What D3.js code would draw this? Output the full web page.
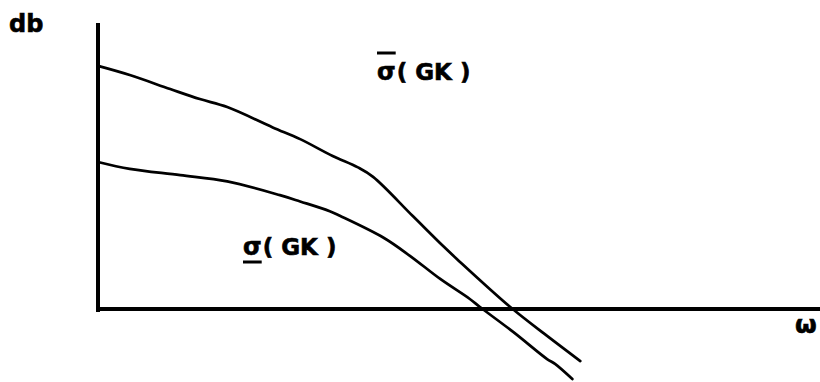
<!DOCTYPE html>
<html>
<head>
<meta charset="utf-8">
<script src="https://cdn.jsdelivr.net/npm/d3@7"></script>
<style>
  html, body { margin: 0; padding: 0; background: #fff; }
  svg { display: block; }
  text { font-family: "DejaVu Sans", sans-serif; font-weight: bold; fill: #000; stroke: #000; stroke-width: 0.6px; }
</style>
</head>
<body>
<svg id="chart" width="820" height="382"></svg>
<script>
// Frequency (ω, arbitrary units) and gain (db) samples for the two singular value curves
const omegaUpper = [0, 0.44, 1.0, 1.41, 1.79, 2.42, 2.8, 3.25, 3.6, 3.81, 4.36, 4.78, 4.97, 5.71, 6.22, 6.68];
const dbUpper    = [85, 81.8, 76.9, 73.4, 70.6, 63.5, 59.4, 53.5, 49.5, 46.2, 32.5, 22, 17.5, 0.7, -9.4, -18.2];

const omegaLower = [0, 0.44, 1.14, 1.79, 2.52, 2.8, 3.21, 3.35, 3.95, 4.32, 4.74, 5.15, 5.29, 5.75, 6.22, 6.33, 6.57];
const dbLower    = [51.4, 49, 46.8, 44.6, 39.8, 37.6, 34.2, 32.6, 25, 18.6, 10.5, 3.5, 0.7, -8, -17.5, -19.2, -24.5];

const axisLabels = { y: "db", x: "ω" };
const seriesLabels = { upper: "( GK )", lower: "( GK )", symbol: "σ" };

const svg = d3.select("#chart");

const x = d3.scaleLinear().domain([0, 10]).range([98, 820]);
const y = d3.scaleLinear().domain([0, 100]).range([309, 23]);

// Axes: a plain vertical line at ω = 0 and a horizontal line at 0 db
svg.append("line")
  .attr("x1", x(0)).attr("x2", x(0))
  .attr("y1", y(100)).attr("y2", y(0) + 3)
  .attr("stroke", "#000").attr("stroke-width", 4);
svg.append("line")
  .attr("x1", x(0) - 2).attr("x2", x(10))
  .attr("y1", y(0)).attr("y2", y(0))
  .attr("stroke", "#000").attr("stroke-width", 4);

const line = d3.line().x(d => x(d[0])).y(d => y(d[1])).curve(d3.curveCatmullRom.alpha(0.5));

svg.append("path")
  .datum(d3.zip(omegaUpper, dbUpper))
  .attr("d", line)
  .attr("fill", "none").attr("stroke", "#000").attr("stroke-width", 2.7)
  .attr("stroke-linejoin", "round").attr("stroke-linecap", "round");

svg.append("path")
  .datum(d3.zip(omegaLower, dbLower))
  .attr("d", line)
  .attr("fill", "none").attr("stroke", "#000").attr("stroke-width", 2.7)
  .attr("stroke-linejoin", "round").attr("stroke-linecap", "round");

// Axis labels
svg.append("text").attr("x", 9).attr("y", 32).attr("font-size", 24).text(axisLabels.y);
svg.append("text").attr("x", 795).attr("y", 333).attr("font-size", 25).text(axisLabels.x);

// Curve labels: σ with overbar (largest) and underbar (smallest)
function sigmaLabel(px, py, rest, mark) {
  const g = svg.append("g");
  const s = g.append("text").attr("x", px).attr("y", py).attr("font-size", 24).text(seriesLabels.symbol);
  const w = s.node().getComputedTextLength();
  g.append("text").attr("x", px + w + 1).attr("y", py).attr("font-size", 23).text(rest);
  const ly = mark === "over" ? py - 27 : py + 7;
  g.append("line")
    .attr("x1", px).attr("x2", px + w)
    .attr("y1", ly).attr("y2", ly)
    .attr("stroke", "#000").attr("stroke-width", 3);
}
sigmaLabel(377, 80, seriesLabels.upper, "over");
sigmaLabel(243, 255, seriesLabels.lower, "under");
</script>
</body>
</html>
